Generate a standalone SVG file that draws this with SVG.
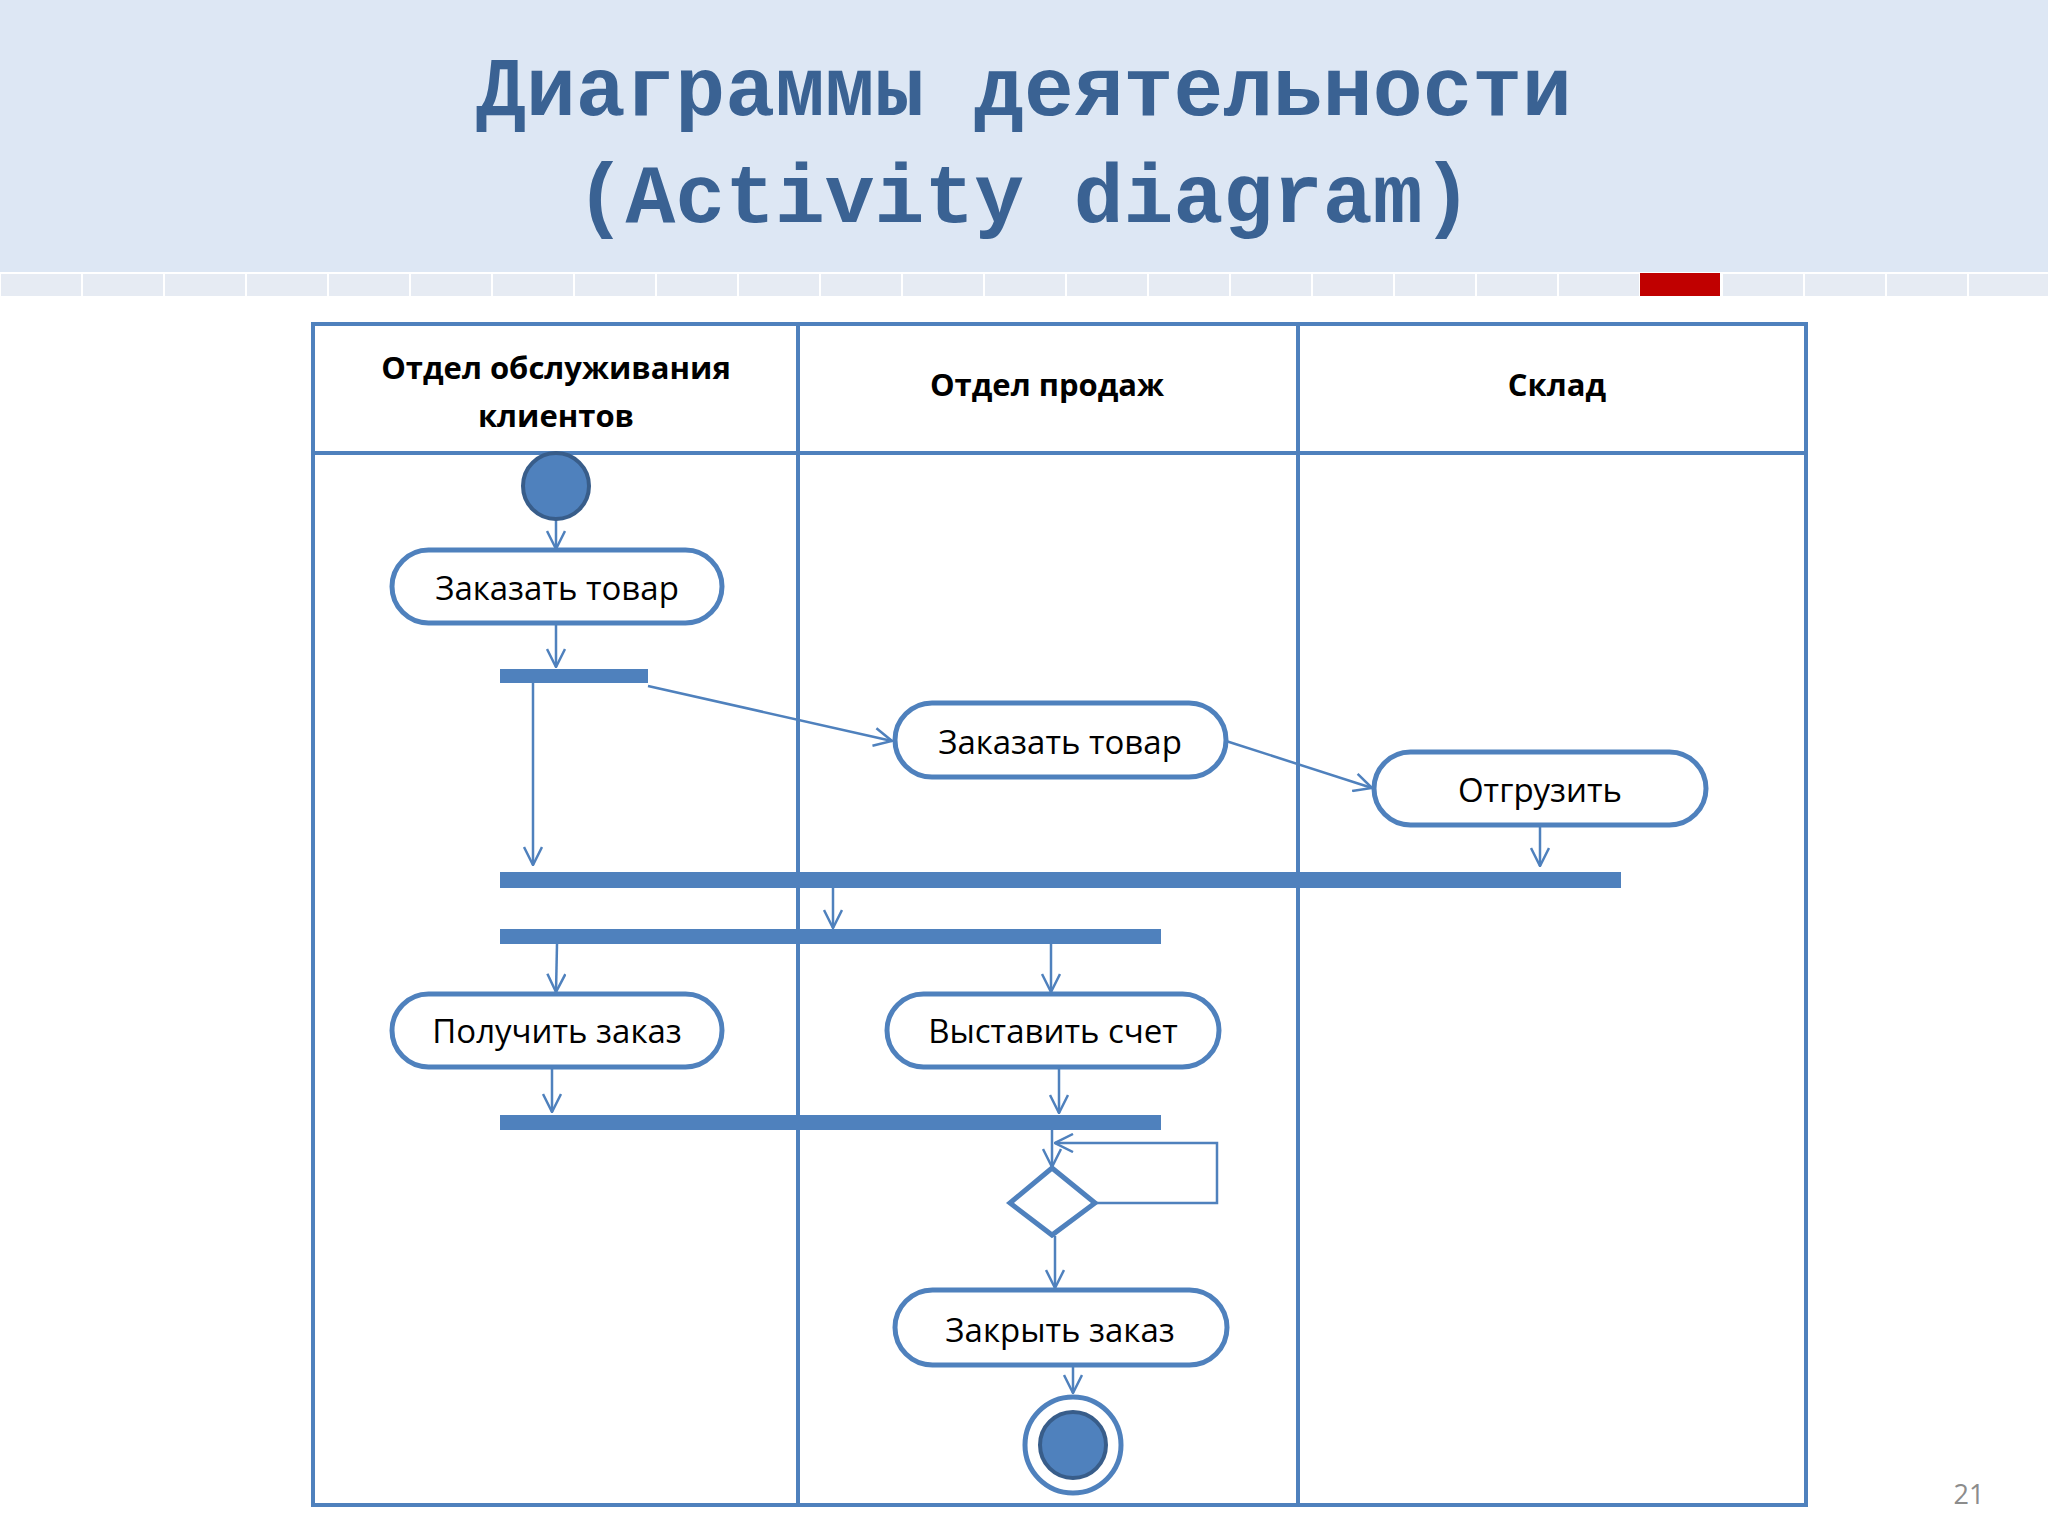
<svg xmlns="http://www.w3.org/2000/svg" width="2048" height="1536" viewBox="0 0 2048 1536">
<defs>
<marker id="ah" viewBox="0 0 20 20" refX="19" refY="10" markerWidth="20" markerHeight="20" markerUnits="userSpaceOnUse" orient="auto">
<path d="M1,1 L19,10 L1,19" fill="none" stroke="#4f81bd" stroke-width="2.5"/>
</marker>
<style>
.title{font-family:"Liberation Mono","DejaVu Sans Mono",monospace;font-weight:bold;font-size:83px;fill:#3a6293;text-anchor:middle}
.hdr{font-family:"Open Sans","Liberation Sans",sans-serif;font-weight:bold;font-size:31px;fill:#000;text-anchor:middle}
.lbl{font-family:"Open Sans","Liberation Sans",sans-serif;font-size:33px;fill:#000;text-anchor:middle}
.lane{fill:none;stroke:#4f81bd;stroke-width:4}
.act{fill:#fff;stroke:#4f81bd;stroke-width:5}
.bar{fill:#4f81bd}
.c{fill:none;stroke:#4f81bd;stroke-width:2.5;marker-end:url(#ah)}
.sq{fill:#e6ebf3;stroke:#fff;stroke-width:2}
</style>
</defs>
<rect x="0" y="0" width="2048" height="272" fill="#dde7f4"/>
<g id="stripe">
<rect class="sq" x="0" y="273" width="82" height="24"/><rect class="sq" x="82" y="273" width="82" height="24"/><rect class="sq" x="164" y="273" width="82" height="24"/><rect class="sq" x="246" y="273" width="82" height="24"/><rect class="sq" x="328" y="273" width="82" height="24"/><rect class="sq" x="410" y="273" width="82" height="24"/><rect class="sq" x="492" y="273" width="82" height="24"/><rect class="sq" x="574" y="273" width="82" height="24"/><rect class="sq" x="656" y="273" width="82" height="24"/><rect class="sq" x="738" y="273" width="82" height="24"/><rect class="sq" x="820" y="273" width="82" height="24"/><rect class="sq" x="902" y="273" width="82" height="24"/><rect class="sq" x="984" y="273" width="82" height="24"/><rect class="sq" x="1066" y="273" width="82" height="24"/><rect class="sq" x="1148" y="273" width="82" height="24"/><rect class="sq" x="1230" y="273" width="82" height="24"/><rect class="sq" x="1312" y="273" width="82" height="24"/><rect class="sq" x="1394" y="273" width="82" height="24"/><rect class="sq" x="1476" y="273" width="82" height="24"/><rect class="sq" x="1558" y="273" width="82" height="24"/><rect x="1640" y="273" width="80" height="23" fill="#c00000"/><rect class="sq" x="1722" y="273" width="82" height="24"/><rect class="sq" x="1804" y="273" width="82" height="24"/><rect class="sq" x="1886" y="273" width="82" height="24"/><rect class="sq" x="1968" y="273" width="82" height="24"/>
</g>
<text class="title" x="1024" y="115">Диаграммы деятельности</text>
<text class="title" x="1024" y="222">(Activity diagram)</text>
<g id="lanes">
<rect class="lane" x="313" y="324" width="1493" height="1181"/>
<line class="lane" x1="313" y1="453" x2="1806" y2="453"/>
<line class="lane" x1="798" y1="324" x2="798" y2="1505"/>
<line class="lane" x1="1298" y1="324" x2="1298" y2="1505"/>
<text class="hdr" x="556" y="379">Отдел обслуживания</text>
<text class="hdr" x="556" y="427">клиентов</text>
<text class="hdr" x="1047" y="396">Отдел продаж</text>
<text class="hdr" x="1557" y="396">Склад</text>
</g>
<g id="connectors">
<line class="c" x1="556" y1="519" x2="556" y2="549"/>
<line class="c" x1="556" y1="623" x2="556" y2="667"/>
<line class="c" x1="533" y1="683" x2="533" y2="865"/>
<line class="c" x1="648" y1="686" x2="892" y2="741"/>
<line class="c" x1="1226" y1="741" x2="1372" y2="788"/>
<line class="c" x1="1540" y1="825" x2="1540" y2="866"/>
<line class="c" x1="833" y1="888" x2="833" y2="928"/>
<line class="c" x1="557" y1="944" x2="556" y2="992"/>
<line class="c" x1="1051" y1="944" x2="1051" y2="992"/>
<line class="c" x1="552" y1="1067" x2="552" y2="1112"/>
<line class="c" x1="1059" y1="1067" x2="1059" y2="1113"/>
<line class="c" x1="1052" y1="1130" x2="1052" y2="1167"/>
<polyline class="c" stroke-width="2" points="1095,1203 1217,1203 1217,1143 1055,1143"/>
<line class="c" x1="1055" y1="1236" x2="1055" y2="1288"/>
<line class="c" x1="1073" y1="1365" x2="1073" y2="1393"/>
</g>
<g id="start"><circle cx="556" cy="486" r="33" fill="#4f81bd" stroke="#385d8a" stroke-width="4"/></g>
<g id="a1"><rect class="act" x="392" y="550" width="330" height="73" rx="36.5"/><text class="lbl" x="557" y="600">Заказать товар</text></g>
<g id="fork1"><rect class="bar" x="500" y="669" width="148" height="14"/></g>
<g id="a2"><rect class="act" x="895" y="703" width="331" height="74" rx="37"/><text class="lbl" x="1060" y="754">Заказать товар</text></g>
<g id="a3"><rect class="act" x="1374" y="752" width="332" height="73" rx="36.5"/><text class="lbl" x="1540" y="802">Отгрузить</text></g>
<g id="join1"><rect class="bar" x="500" y="872" width="1121" height="16"/></g>
<g id="fork2"><rect class="bar" x="500" y="929" width="661" height="15"/></g>
<g id="a4"><rect class="act" x="392" y="994" width="330" height="73" rx="36.5"/><text class="lbl" x="557" y="1043">Получить заказ</text></g>
<g id="a5"><rect class="act" x="887" y="994" width="332" height="73" rx="36.5"/><text class="lbl" x="1053" y="1043">Выставить счет</text></g>
<g id="join2"><rect class="bar" x="500" y="1115" width="661" height="15"/></g>
<g id="decision"><polygon points="1052,1168 1095,1203 1052,1235 1010,1203" fill="#fff" stroke="#4f81bd" stroke-width="5"/></g>
<g id="a6"><rect class="act" x="895" y="1290" width="332" height="75" rx="37.5"/><text class="lbl" x="1060" y="1342">Закрыть заказ</text></g>
<g id="end"><circle cx="1073" cy="1445" r="48" fill="#fff" stroke="#4f81bd" stroke-width="5"/><circle cx="1073" cy="1445" r="33" fill="#4f81bd" stroke="#385d8a" stroke-width="4"/></g>
<text x="1969" y="1504" font-family="Open Sans, Liberation Sans, sans-serif" font-size="27" fill="#8c8c8c" text-anchor="middle">21</text>
</svg>
